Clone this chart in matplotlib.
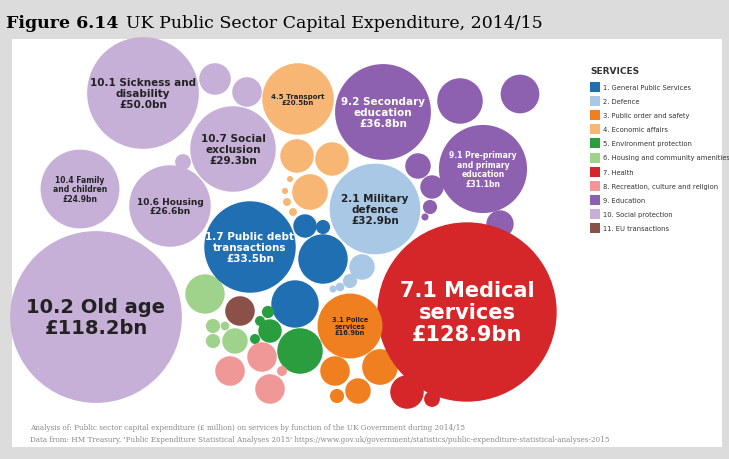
import matplotlib.pyplot as plt
from matplotlib.patches import Circle, Rectangle
import numpy as np

# colours per service group
colors = {1: '#1f6fb2', 2: '#a9c8e6', 3: '#f07f1f', 4: '#f8b675', 5: '#2a9e3f',
          6: '#9fd28b', 7: '#d5262a', 8: '#f09898', 9: '#8e61b0', 10: '#c6b0d8', 11: '#8b5149'}
legend_labels = ['1. General Public Services', '2. Defence', '3. Public order and safety',
                 '4. Economic affairs', '5. Environment protection',
                 '6. Housing and community amenities', '7. Health',
                 '8. Recreation, culture and religion', '9. Education',
                 '10. Social protection', '11. EU transactions']

# labelled bubbles: group, value (bn), label, centre (px layout), font size
lab_group = [10, 10, 10, 10, 4, 9, 9, 2, 1, 10, 7, 3]
lab_value = [50.0, 24.9, 26.6, 29.3, 20.5, 36.8, 31.1, 32.9, 33.5, 118.2, 128.9, 16.9]
lab_text = ['10.1 Sickness and\ndisability', '10.4 Family\nand children', '10.6 Housing',
            '10.7 Social\nexclusion', '4.5 Transport', '9.2 Secondary\neducation',
            '9.1 Pre-primary\nand primary\neducation', '2.1 Military\ndefence',
            '1.7 Public debt\ntransactions', '10.2 Old age', '7.1 Medical\nservices',
            '3.1 Police\nservices']
lab_pos = [(143, 94), (80, 190), (170, 207), (233, 150), (298, 100), (383, 113),
           (483, 170), (375, 210), (250, 248), (96, 318), (467, 313), (350, 327)]
lab_fs = [7.5, 5.5, 6.5, 7.5, 5, 7.5, 5.5, 7.5, 7.5, 14, 15, 4.8]
lab_tc = ['#222', '#222', '#222', '#222', '#222', 'white', 'white', '#222', 'white',
          '#222', 'white', '#222']

# unlabelled bubbles: group, value (bn), centre
sm_group = [10, 10, 10, 4, 4, 4, 4, 4, 4, 4, 9, 9, 9, 9, 9, 1, 1, 1, 1, 2, 2, 2, 2,
            6, 6, 6, 6, 6, 11, 5, 5, 5, 5, 5, 8, 8, 8, 8, 3, 3, 3, 3, 7, 7, 9, 9]
sm_value = [4.0, 3.5, 1.0, 4.5, 4.5, 5.1, 0.15, 0.15, 0.25, 0.25, 8.3, 2.6, 2.2, 0.8,
            0.2, 2.2, 0.8, 9.8, 9.0, 2.6, 0.8, 0.3, 0.2, 6.2, 0.8, 2.6, 0.8, 0.3, 3.5,
            0.4, 0.6, 2.2, 0.4, 8.3, 3.5, 3.5, 3.5, 0.4, 3.5, 5.1, 2.6, 0.8, 4.5, 1.0,
            6.0, 3.0]
sm_pos = [(215, 80), (247, 93), (183, 163), (297, 157), (332, 160), (310, 193), (290, 180),
          (285, 192), (287, 203), (293, 213), (460, 102), (418, 167), (432, 188), (430, 208),
          (425, 218), (305, 227), (323, 228), (323, 260), (295, 305), (362, 268), (350, 282),
          (340, 288), (333, 290), (205, 295), (213, 327), (235, 342), (213, 342), (225, 327),
          (240, 312), (260, 322), (268, 313), (270, 332), (255, 340), (300, 352), (262, 358),
          (230, 372), (270, 390), (282, 372), (335, 372), (380, 368), (358, 392), (337, 397),
          (407, 393), (432, 400), (520, 95), (500, 225)]

K = 7.9  # px per sqrt(bn)

fig = plt.figure(figsize=(7.29, 4.6), dpi=100, facecolor='#dcdcdc')
ax = fig.add_axes([0, 0, 1, 1])
ax.set_xlim(0, 729)
ax.set_ylim(460, 0)
ax.set_aspect('equal')
ax.axis('off')

ax.add_patch(Rectangle((12, 40), 710, 408, facecolor='white', edgecolor='none', zorder=0))
ax.text(6, 24, 'Figure 6.14', fontsize=12.5, fontweight='bold', family='DejaVu Serif',
        va='center', ha='left')
ax.text(126, 24, 'UK Public Sector Capital Expenditure, 2014/15', fontsize=12.5,
        family='DejaVu Serif', va='center', ha='left')

for g, v, (x, y) in zip(sm_group, sm_value, sm_pos):
    ax.add_patch(Circle((x, y), K * np.sqrt(v), facecolor=colors[g], edgecolor='none', zorder=2))

for g, v, t, (x, y), fs, tc in zip(lab_group, lab_value, lab_text, lab_pos, lab_fs, lab_tc):
    ax.add_patch(Circle((x, y), K * np.sqrt(v), facecolor=colors[g], edgecolor='none', zorder=2))
    ax.text(x, y, t + '\n£%.1fbn' % v, ha='center', va='center', fontsize=fs, color=tc,
            fontweight='bold', linespacing=1.1, zorder=3)

# legend
ax.text(590, 71, 'SERVICES', fontsize=6.5, fontweight='bold', color='#333', va='center')
for i, lbl in enumerate(legend_labels):
    y = 88 + i * 14.1
    ax.add_patch(Rectangle((590, y - 5), 10, 10, facecolor=colors[i + 1], edgecolor='none'))
    ax.text(603, y, lbl, fontsize=4.9, color='#333', va='center')

ax.text(30, 428, 'Analysis of: Public sector capital expenditure (£ million) on services by function '
        'of the UK Government during 2014/15', fontsize=5.2, family='DejaVu Serif',
        color='#888', va='center')
ax.text(30, 440, "Data from: HM Treasury, 'Public Expenditure Statistical Analyses 2015' "
        'https://www.gov.uk/government/statistics/public-expenditure-statistical-analyses-2015',
        fontsize=5.2, family='DejaVu Serif', color='#888', va='center')

fig.savefig('out.png', dpi=100, facecolor=fig.get_facecolor())
